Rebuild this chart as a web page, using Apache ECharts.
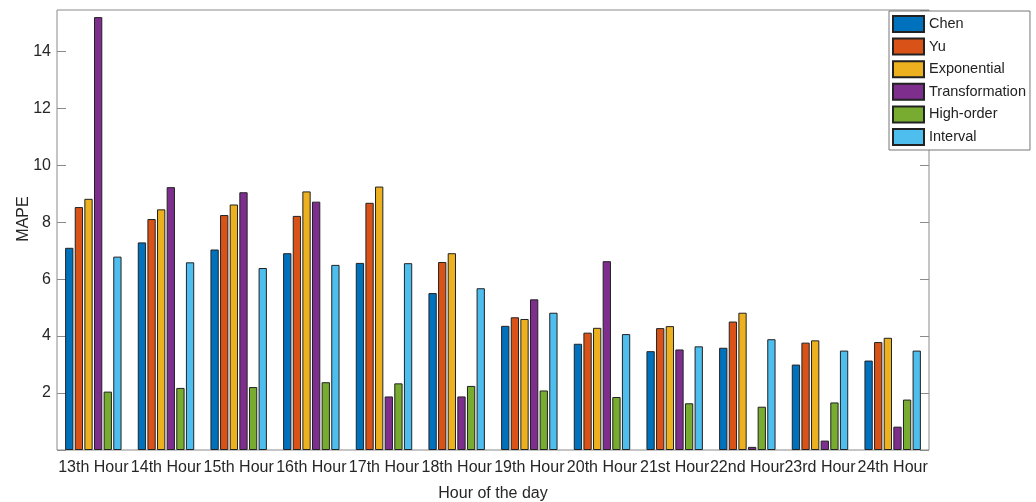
<!DOCTYPE html>
<html>
<head>
<meta charset="utf-8">
<script src="https://cdn.jsdelivr.net/npm/echarts@6/dist/echarts.min.js"></script>
<style>
  html, body { margin: 0; padding: 0; background: #fff; }
  #main { width: 1036px; height: 502px; }
</style>
</head>
<body>
<div id="main"></div>
<script>
const hours = ['13th Hour', '14th Hour', '15th Hour', '16th Hour', '17th Hour', '18th Hour',
  '19th Hour', '20th Hour', '21st Hour', '22nd Hour', '23rd Hour', '24th Hour'];
const seriesNames = ['Chen', 'Yu', 'Exponential', 'Transformation', 'High-order', 'Interval'];
const chen = [7.10, 7.29, 7.04, 6.91, 6.57, 5.51, 4.36, 3.73, 3.47, 3.59, 3.00, 3.14];
const yu = [8.53, 8.11, 8.25, 8.22, 8.68, 6.60, 4.66, 4.12, 4.28, 4.51, 3.77, 3.79];
const exponential = [8.82, 8.45, 8.62, 9.08, 9.25, 6.91, 4.60, 4.29, 4.35, 4.82, 3.85, 3.94];
const transformation = [15.20, 9.23, 9.05, 8.72, 1.88, 1.88, 5.29, 6.63, 3.53, 0.11, 0.33, 0.82];
const highOrder = [2.05, 2.18, 2.21, 2.38, 2.34, 2.25, 2.09, 1.86, 1.64, 1.52, 1.67, 1.77];
const interval = [6.79, 6.59, 6.39, 6.50, 6.56, 5.68, 4.82, 4.07, 3.64, 3.89, 3.49, 3.49];
const colors = ['#0072BD', '#D95319', '#EDB120', '#7E2F8E', '#77AC30', '#4DBEEE'];

const allData = [chen, yu, exponential, transformation, highOrder, interval];
const font = 'Liberation Sans, Arial, sans-serif';
const yMax = 15.45;

const chart = echarts.init(document.getElementById('main'));

const yLabel = function (v) {
  if (v === 0 || v % 2 !== 0) return '';
  return v;
};

const option = {
  animation: false,
  textStyle: { fontFamily: font },
  grid: {
    left: 57, right: 107, top: 10, bottom: 52,
    outerBoundsMode: 'none',
    containLabel: false,
    show: true, borderColor: '#8a8a8a', borderWidth: 1
  },
  legend: {
    orient: 'vertical',
    left: 889, top: 11,
    padding: [4, 4, 4, 3],
    itemWidth: 31, itemHeight: 16, itemGap: 4.6,
    backgroundColor: '#fff',
    borderColor: '#777', borderWidth: 1,
    icon: 'rect',
    textStyle: { fontSize: 14.5, color: '#222', fontFamily: font },
    data: seriesNames,
    z: 10
  },
  xAxis: [{
    type: 'category',
    data: hours,
    name: 'Hour of the day',
    nameLocation: 'middle',
    nameGap: 36,
    nameMoveOverlap: false,
    nameTextStyle: { fontSize: 16, color: '#262626', fontFamily: font },
    axisLine: { show: false },
    axisTick: { inside: true, length: 9, alignWithLabel: true, lineStyle: { color: '#222', width: 1.5 } },
    axisLabel: { fontSize: 16, color: '#262626', margin: 10, interval: 0, fontFamily: font }
  }, {
    type: 'category',
    data: hours,
    position: 'top',
    axisLine: { show: false },
    axisTick: { inside: true, length: 9, alignWithLabel: true, lineStyle: { color: '#8a8a8a' } },
    axisLabel: { show: false }
  }],
  yAxis: [{
    type: 'value',
    min: 0, max: yMax, interval: 2,
    name: 'MAPE',
    nameLocation: 'middle',
    nameGap: 25,
    nameMoveOverlap: false,
    nameTextStyle: { fontSize: 16, color: '#262626', fontFamily: font, padding: [0, 0, 0, 22] },
    splitLine: { show: false },
    axisLine: { show: false },
    axisTick: { show: true, inside: true, length: 9, lineStyle: { color: '#8a8a8a' } },
    axisLabel: { fontSize: 16, color: '#262626', margin: 6, formatter: yLabel, showMaxLabel: false, fontFamily: font }
  }, {
    type: 'value',
    min: 0, max: yMax, interval: 2,
    position: 'right',
    splitLine: { show: false },
    axisLine: { show: false },
    axisTick: { show: true, inside: true, length: 9, lineStyle: { color: '#8a8a8a' } },
    axisLabel: { show: false }
  }],
  series: seriesNames.map((name, i) => ({
    name: name,
    type: 'bar',
    data: allData[i],
    barWidth: 8.3,
    barGap: '16%',
    itemStyle: { color: colors[i], borderColor: '#222', borderWidth: 1 }
  }))
};

chart.setOption(option);
</script>
</body>
</html>
